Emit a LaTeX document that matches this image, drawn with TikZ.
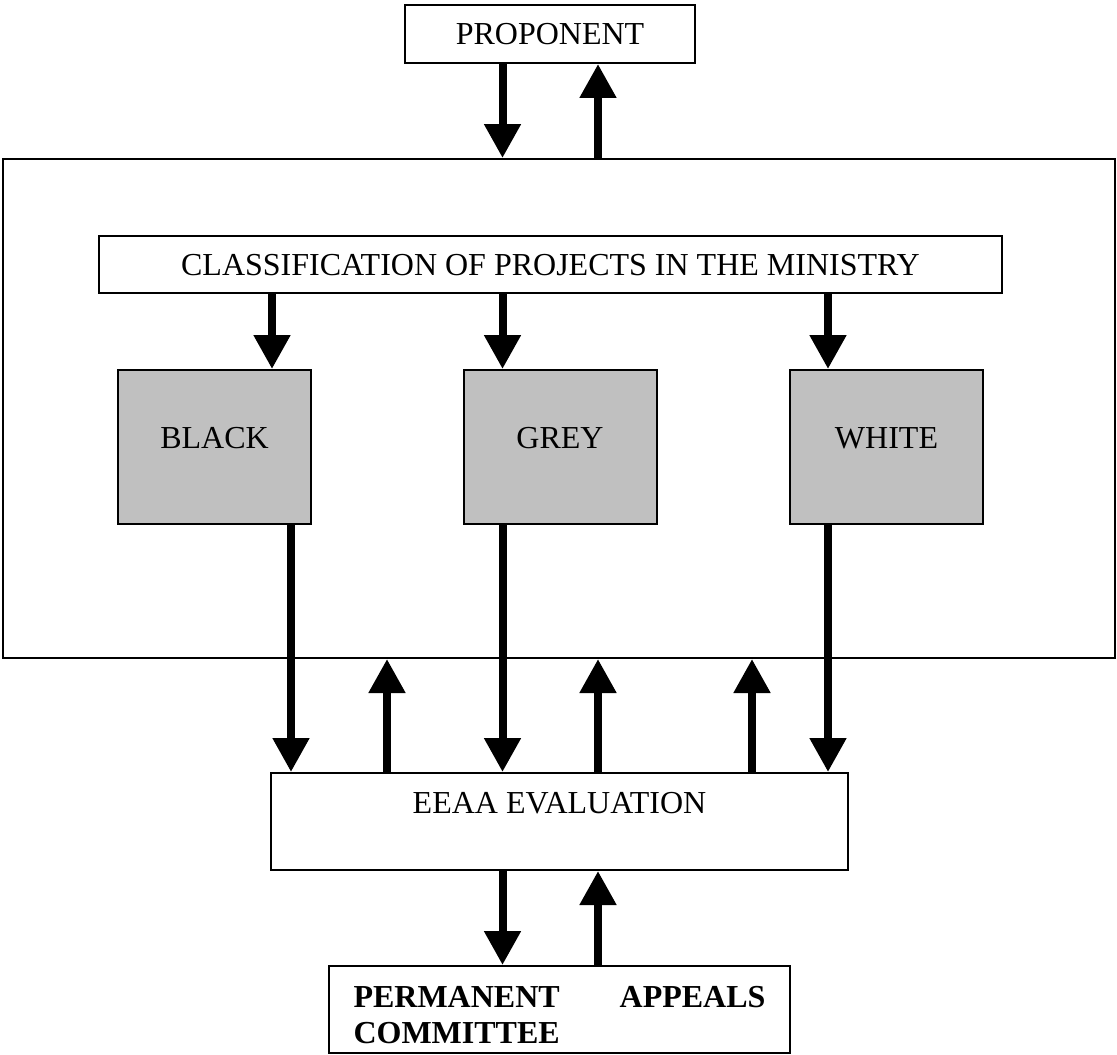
\documentclass[tikz,border=0pt]{standalone}
\usepackage{fontspec}
\setmainfont{Liberation Serif}
\usetikzlibrary{arrows.meta}
\definecolor{shade}{HTML}{C0C0C0}
\tikzset{
    box/.style={
        draw,
        line width=1pt,
        fill=white,
        inner sep=0pt,
        font=\fontsize{16}{18}\selectfont,
        text height=11pt,
        text depth=0pt
    },
    class/.style={
        box,
        fill=shade,
        minimum width=96.5pt,
        minimum height=77pt,
        text depth=10pt
    },
    flow/.style={
        line width=4pt,
        -{Triangle[width=17.5pt,length=17pt]}
    }
}

\begin{document}
\begin{tikzpicture}[x=0.5pt,y=-0.5pt]
  \useasboundingbox (0,0) rectangle (1117,1054);

  \coordinate (xa) at (272,0);
  \coordinate (xb) at (291,0);
  \coordinate (xc) at (387,0);
  \coordinate (xd) at (502.5,0);
  \coordinate (xe) at (598,0);
  \coordinate (xf) at (752,0);
  \coordinate (xg) at (828,0);

  \node[box, minimum width=145pt, minimum height=29pt] at (550,34) (Prop) {PROPONENT};
  \node[draw, line width=1pt, minimum width=556pt, minimum height=249.5pt] at (559,408.5) (Min) {};
  \node[box, minimum width=451.5pt, minimum height=28.5pt] at (550.5,264.5) (Cls) {CLASSIFICATION OF PROJECTS IN THE MINISTRY};

  \node[class] at (214.5,447) (Blk) {BLACK};
  \node[class] at (560,447) (Gry) {GREY};
  \node[class] at (886.5,447) (Wht) {WHITE};

  \node[box, minimum width=288.5pt, minimum height=48.5pt, text depth=19.5pt] at (559.5,821.5) (Eval) {EEAA EVALUATION};
  \node[box, minimum width=230.5pt, minimum height=43.5pt, text depth=13.5pt, font=\fontsize{16}{18}\selectfont\bfseries] at (559.5,1009.5) (Appeal)
    {\parbox[t]{206pt}{PERMANENT\hfill APPEALS\\COMMITTEE}};

  \draw[flow] (Prop.south -| xd) -- (Min.north -| xd);
  \draw[flow] (Min.north -| xe) -- (Prop.south -| xe);

  \draw[flow] (Cls.south -| xa) -- (Blk.north -| xa);
  \draw[flow] (Cls.south -| xd) -- (Gry.north -| xd);
  \draw[flow] (Cls.south -| xg) -- (Wht.north -| xg);

  \draw[flow] (Blk.south -| xb) -- (Eval.north -| xb);
  \draw[flow] (Gry.south -| xd) -- (Eval.north -| xd);
  \draw[flow] (Wht.south -| xg) -- (Eval.north -| xg);
  \foreach \c in {xc,xe,xf}
    \draw[flow] (Eval.north -| \c) -- (Min.south -| \c);

  \draw[flow] (Eval.south -| xd) -- (Appeal.north -| xd);
  \draw[flow] (Appeal.north -| xe) -- (Eval.south -| xe);

\end{tikzpicture}
\end{document}
